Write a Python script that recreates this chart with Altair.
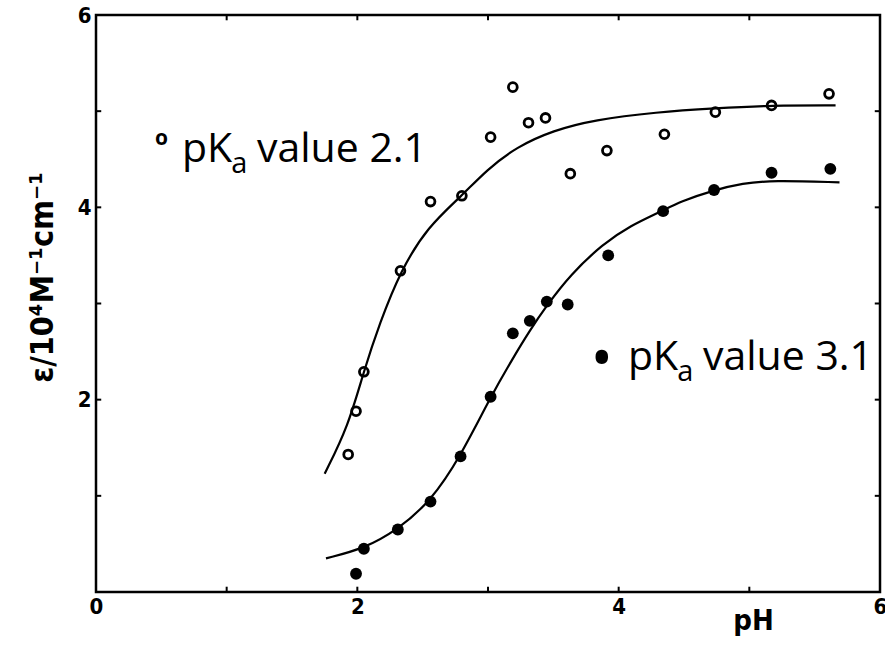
import altair as alt
import pandas as pd

# --- measured points (pH, epsilon / 1e4) ---
open_x = [1.93, 1.99, 2.05, 2.33, 2.56, 2.80, 3.02, 3.19, 3.31, 3.44, 3.63, 3.91, 4.35, 4.74, 5.17, 5.61]
open_y = [1.43, 1.88, 2.29, 3.34, 4.06, 4.12, 4.73, 5.25, 4.88, 4.93, 4.35, 4.59, 4.76, 4.99, 5.06, 5.18]

filled_x = [1.99, 2.05, 2.31, 2.56, 2.79, 3.02, 3.19, 3.32, 3.45, 3.61, 3.92, 4.34, 4.73, 5.17, 5.62]
filled_y = [0.19, 0.45, 0.65, 0.94, 1.41, 2.03, 2.69, 2.82, 3.02, 2.99, 3.50, 3.96, 4.18, 4.36, 4.40]

# --- fitted curves ---
open_curve_x = [1.75, 1.93, 2.05, 2.17, 2.33, 2.54, 2.80, 2.99, 3.22, 3.50, 3.81, 4.29, 4.74, 5.17, 5.66]
open_curve_y = [1.23, 1.72, 2.30, 2.79, 3.34, 3.80, 4.12, 4.39, 4.63, 4.80, 4.91, 4.99, 5.03, 5.06, 5.06]

filled_curve_x = [1.76, 2.05, 2.31, 2.56, 2.79, 3.02, 3.19, 3.32, 3.45, 3.63, 3.88, 4.09, 4.33, 4.47, 4.73, 4.95, 5.17, 5.69]
filled_curve_y = [0.35, 0.45, 0.65, 0.94, 1.41, 2.03, 2.43, 2.72, 2.98, 3.30, 3.62, 3.81, 3.96, 4.06, 4.18, 4.25, 4.28, 4.26]

x_ticks = [0, 2, 4, 6]
y_ticks = [2, 4, 6]
minor = [1, 2, 3, 4, 5]

AX_FONT = "DejaVu Sans Condensed"
TXT_FONT = "Open Sans"

pts_open = pd.DataFrame({"x": open_x, "y": open_y})
pts_filled = pd.DataFrame({"x": filled_x, "y": filled_y})
cur_open = pd.DataFrame({"x": open_curve_x, "y": open_curve_y, "o": range(len(open_curve_x))})
cur_filled = pd.DataFrame({"x": filled_curve_x, "y": filled_curve_y, "o": range(len(filled_curve_x))})

xs = alt.Scale(domain=[0, 6], nice=False, zero=False)
ys = alt.Scale(domain=[0, 6], nice=False, zero=False)

X = alt.X("x:Q", scale=xs, axis=alt.Axis(
    values=x_ticks, format="d", title="pH", grid=False, domain=False, ticks=False,
    labelFont=AX_FONT, labelFontWeight="bold", labelFontSize=22, labelColor="black",
    labelPadding=4, labelFlush=False, labelOverlap=False,
    titleFont=AX_FONT, titleFontWeight="bold", titleFontSize=29, titleColor="black",
    titleX=657, titleY=37, titleBaseline="alphabetic", titleAlign="center", titleAnchor="start"))
Y = alt.Y("y:Q", scale=ys, axis=alt.Axis(
    values=y_ticks, format="d", title="ε/10⁴M⁻¹cm⁻¹", grid=False, domain=False, ticks=False,
    labelFont=AX_FONT, labelFontWeight="bold", labelFontSize=22, labelColor="black",
    labelPadding=5, labelFlush=False, labelOverlap=False,
    titleFont=AX_FONT, titleFontWeight="bold", titleFontSize=32, titleColor="black",
    titleX=-54, titleY=262, titleAngle=270, titleBaseline="middle", titleAlign="center", titleAnchor="start"))

line_open = alt.Chart(cur_open).mark_line(color="black", strokeWidth=2.2, interpolate="basis").encode(
    x=X, y=Y, order="o:Q")
line_filled = alt.Chart(cur_filled).mark_line(color="black", strokeWidth=2.2, interpolate="basis").encode(
    x=X, y=Y, order="o:Q")
p_open = alt.Chart(pts_open).mark_point(shape="circle", filled=False, color="black", size=78, strokeWidth=2.8, opacity=1).encode(x=X, y=Y)
p_filled = alt.Chart(pts_filled).mark_point(shape="circle", filled=True, color="black", size=140, opacity=1).encode(x=X, y=Y)

# inward tick marks on all four sides
tick_b = pd.DataFrame({"x": minor, "y": [0] * 5, "y2": [0.055] * 5})
tick_t = pd.DataFrame({"x": minor, "y": [6] * 5, "y2": [5.945] * 5})
tick_l = pd.DataFrame({"y": minor, "x": [0] * 5, "x2": [0.04] * 5})
tick_r = pd.DataFrame({"y": minor, "x": [6] * 5, "x2": [5.96] * 5})
tb = alt.Chart(tick_b).mark_rule(color="black", strokeWidth=2).encode(x=X, y=Y, y2="y2:Q")
tt = alt.Chart(tick_t).mark_rule(color="black", strokeWidth=2).encode(x=X, y=Y, y2="y2:Q")
tl = alt.Chart(tick_l).mark_rule(color="black", strokeWidth=2).encode(x=X, x2="x2:Q", y=Y)
tr = alt.Chart(tick_r).mark_rule(color="black", strokeWidth=2).encode(x=X, x2="x2:Q", y=Y)

# annotations
big = pd.DataFrame({"x": [0.658, 1.232, 4.071, 4.645], "y": [4.47, 4.47, 2.308, 2.308],
                    "t": ["pK", "value 2.1", "pK", "value 3.1"]})
sub = pd.DataFrame({"x": [1.035, 4.449], "y": [4.36, 2.198], "t": ["a", "a"]})
sym_o = pd.DataFrame({"x": [0.452], "y": [4.647], "t": ["o"]})
sym_b = pd.DataFrame({"x": [3.87], "y": [2.214], "t": ["•"]})

t_big = alt.Chart(big).mark_text(font=TXT_FONT, fontSize=41, align="left", baseline="alphabetic", color="black").encode(x=X, y=Y, text="t:N")
t_sub = alt.Chart(sub).mark_text(font=TXT_FONT, fontSize=29, align="left", baseline="alphabetic", color="black").encode(x=X, y=Y, text="t:N")
t_o = alt.Chart(sym_o).mark_text(font=TXT_FONT, fontSize=21, fontWeight="bold", align="left", baseline="alphabetic", color="black").encode(x=X, y=Y, text="t:N")
t_b = alt.Chart(sym_b).mark_text(font=TXT_FONT, fontSize=60, align="center", baseline="alphabetic", color="black").encode(x=X, y=Y, text="t:N")

chart = alt.layer(line_open, line_filled, p_open, p_filled, tb, tt, tl, tr, t_big, t_sub, t_o, t_b).properties(
    width=784, height=577,
    autosize=alt.AutoSizeParams(type="none"),
    padding={"left": 96, "top": 15, "right": 5, "bottom": 54},
    background="white",
).configure_view(stroke="black", strokeWidth=2.5)

chart.save("out.html", embed_options={"renderer": "svg", "actions": False})
